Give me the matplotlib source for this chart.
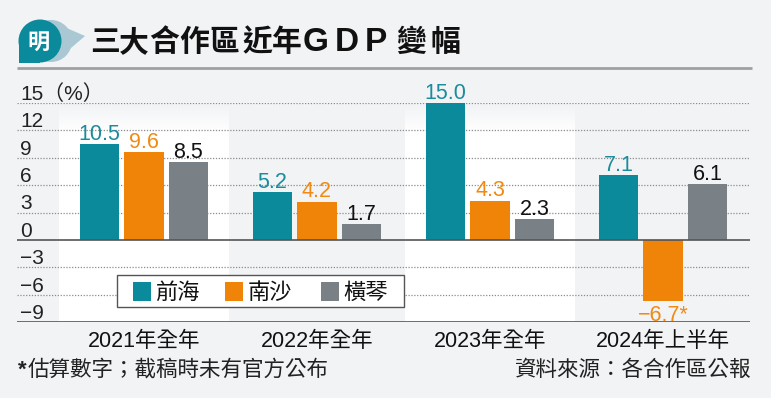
import numpy as np
import matplotlib.pyplot as plt
from matplotlib.patches import Rectangle, Circle, Polygon
from matplotlib.colors import LinearSegmentedColormap

# ----------------------------
# data
# ----------------------------
periods = ["2021年全年", "2022年全年", "2023年全年", "2024年上半年"]
zones = ["前海", "南沙", "橫琴"]
qianhai = [10.5, 5.2, 15.0, 7.1]
nansha = [9.6, 4.2, 4.3, -6.7]
hengqin = [8.5, 1.7, 2.3, 6.1]
nansha_estimated = [False, False, False, True]
yticks = [15, 12, 9, 6, 3, 0, -3, -6, -9]

title = "三大合作區近年GDP變幅"
note = "估算數字；截稿時未有官方公布"
source = "資料來源：各合作區公報"

# ----------------------------
# style
# ----------------------------
FONT = ["Liberation Sans", "Noto Sans CJK TC"]
plt.rcParams["font.family"] = FONT
BG = "#f2f3f5"
TEAL = "#0b8a9b"
ORANGE = "#f08408"
GRAY = "#7a8186"
bar_colors = [TEAL, ORANGE, GRAY]
label_colors = ["#1a8c9c", "#f08a14", "#111111"]

W, H = 771, 398
fig = plt.figure(figsize=(W / 100, H / 100), dpi=100, facecolor=BG)

# background layer in pixel coords (logo, title, rule)
bg = fig.add_axes([0, 0, 1, 1], zorder=0)
bg.set_xlim(0, W)
bg.set_ylim(H, 0)
bg.axis("off")

bg.add_patch(Circle((51, 41), 21, color="#a9c8d4", lw=0))
bg.add_patch(Polygon([(62, 26), (85, 36), (64, 54)], closed=True, color="#a9c8d4", lw=0))
bg.add_patch(Circle((40, 41), 21.5, color=TEAL, lw=0))
bg.add_patch(Rectangle((18.5, 41), 21.5, 22, color=TEAL, lw=0))
bg.text(39, 42, "明", color="white", fontsize=16, fontweight="bold",
        ha="center", va="center", family="Noto Sans CJK TC")

# title drawn glyph by glyph to get the tracking of the original
title_x = [90, 119, 149, 179, 209, 242, 272, 303, 335, 365, 396, 431]
for ch, tx in zip(title, title_x):
    if ch.isascii():
        bg.text(tx, 42.5, ch, fontsize=24, fontweight="bold", color="#111111",
                ha="left", va="center", family="Liberation Sans")
    else:
        bg.text(tx, 42, ch, fontsize=21.5, fontweight="bold", color="#111111",
                ha="left", va="center", family="Noto Sans CJK TC")
bg.plot([17, 752], [68, 68], color="#a0a0a0", lw=2, solid_capstyle="butt")

bg.text(18, 376, "*", fontsize=16, fontweight="bold", color="#222222",
        ha="left", va="baseline")
bg.text(28, 376, note, fontsize=15.5, color="#222222", ha="left", va="baseline")
bg.text(751, 376, source, fontsize=15.5, color="#222222", ha="right", va="baseline")

# ----------------------------
# main chart
# ----------------------------
ax = fig.add_axes([17 / W, 1 - 322 / H, 733 / W, 219 / H], zorder=2)
ax.set_facecolor("none")
for s in ax.spines.values():
    s.set_visible(False)
ax.set_xticks([])
ax.set_yticks([])

x = np.arange(len(periods))
step = 0.257
width = 0.226

# white column bands behind 1st and 3rd group, fading in at the top
cmap = LinearSegmentedColormap.from_list("band", [BG, "white"])
yy = np.linspace(14.8, -9, 200)
grad = np.clip((14.8 - yy) / 3.0, 0, 1).reshape(-1, 1)
for i in (0, 2):
    ax.imshow(grad, extent=(i - 0.49, i + 0.49, -9, 14.8), aspect="auto",
              cmap=cmap, vmin=0, vmax=1, origin="upper", zorder=0)

for v in yticks:
    if v in (0, -9):
        ax.axhline(v, color="#555555", lw=1.2, zorder=3)
    else:
        ax.axhline(v, color="#8c8c8c", lw=0.9, ls=(0, (1, 1.3)), zorder=1)
    lab = str(v).replace("-", "−")
    if v == 15:
        lab = "15（%）"
    ax.annotate(lab, xy=(0, v), xycoords=("axes fraction", "data"),
                xytext=(2.2, 2.2), textcoords="offset points",
                ha="left", va="baseline", fontsize=15, color="#222222")

series = [qianhai, nansha, hengqin]
for k, vals in enumerate(series):
    xs = x + (k - 1) * step
    ax.bar(xs, vals, width, color=bar_colors[k], zorder=2)
    for j, (xi, v) in enumerate(zip(xs, vals)):
        txt = f"{v:.1f}".replace("-", "−")
        if k == 1 and nansha_estimated[j]:
            txt += "*"
        if v >= 0:
            ax.annotate(txt, (xi, v), xytext=(0, 3), textcoords="offset points",
                        ha="center", va="baseline", fontsize=15.5,
                        color=label_colors[k], zorder=4)
        else:
            ax.annotate(txt, (xi, v), xytext=(0, -14.5), textcoords="offset points",
                        ha="center", va="baseline", fontsize=15.5,
                        color=label_colors[k], zorder=4)

for xi, p in zip(x, periods):
    ax.annotate(p, (xi, -9), xytext=(0, -18), textcoords="offset points",
                ha="center", va="baseline", fontsize=15.5, color="#111111",
                annotation_clip=False)

ax.set_xlim((17 - 144) / 173, (750 - 144) / 173)
ax.set_ylim(-9, 15)

# ----------------------------
# legend (pixel coords, on top)
# ----------------------------
fg = fig.add_axes([0, 0, 1, 1], zorder=5)
fg.set_facecolor("none")
fg.set_xlim(0, W)
fg.set_ylim(H, 0)
fg.axis("off")
fg.add_patch(Rectangle((117, 275), 287, 32, fc="white", ec="#555555", lw=1))
for sx, tx, c, name in zip([133, 225, 321], [155, 248, 343], bar_colors, zones):
    fg.add_patch(Rectangle((sx, 282), 18, 19, color=c, lw=0))
    fg.text(tx, 292, name, fontsize=16, color="#111111", ha="left", va="center",
            family="Noto Sans CJK TC")

fig.savefig("out.png", dpi=100, facecolor=BG)
